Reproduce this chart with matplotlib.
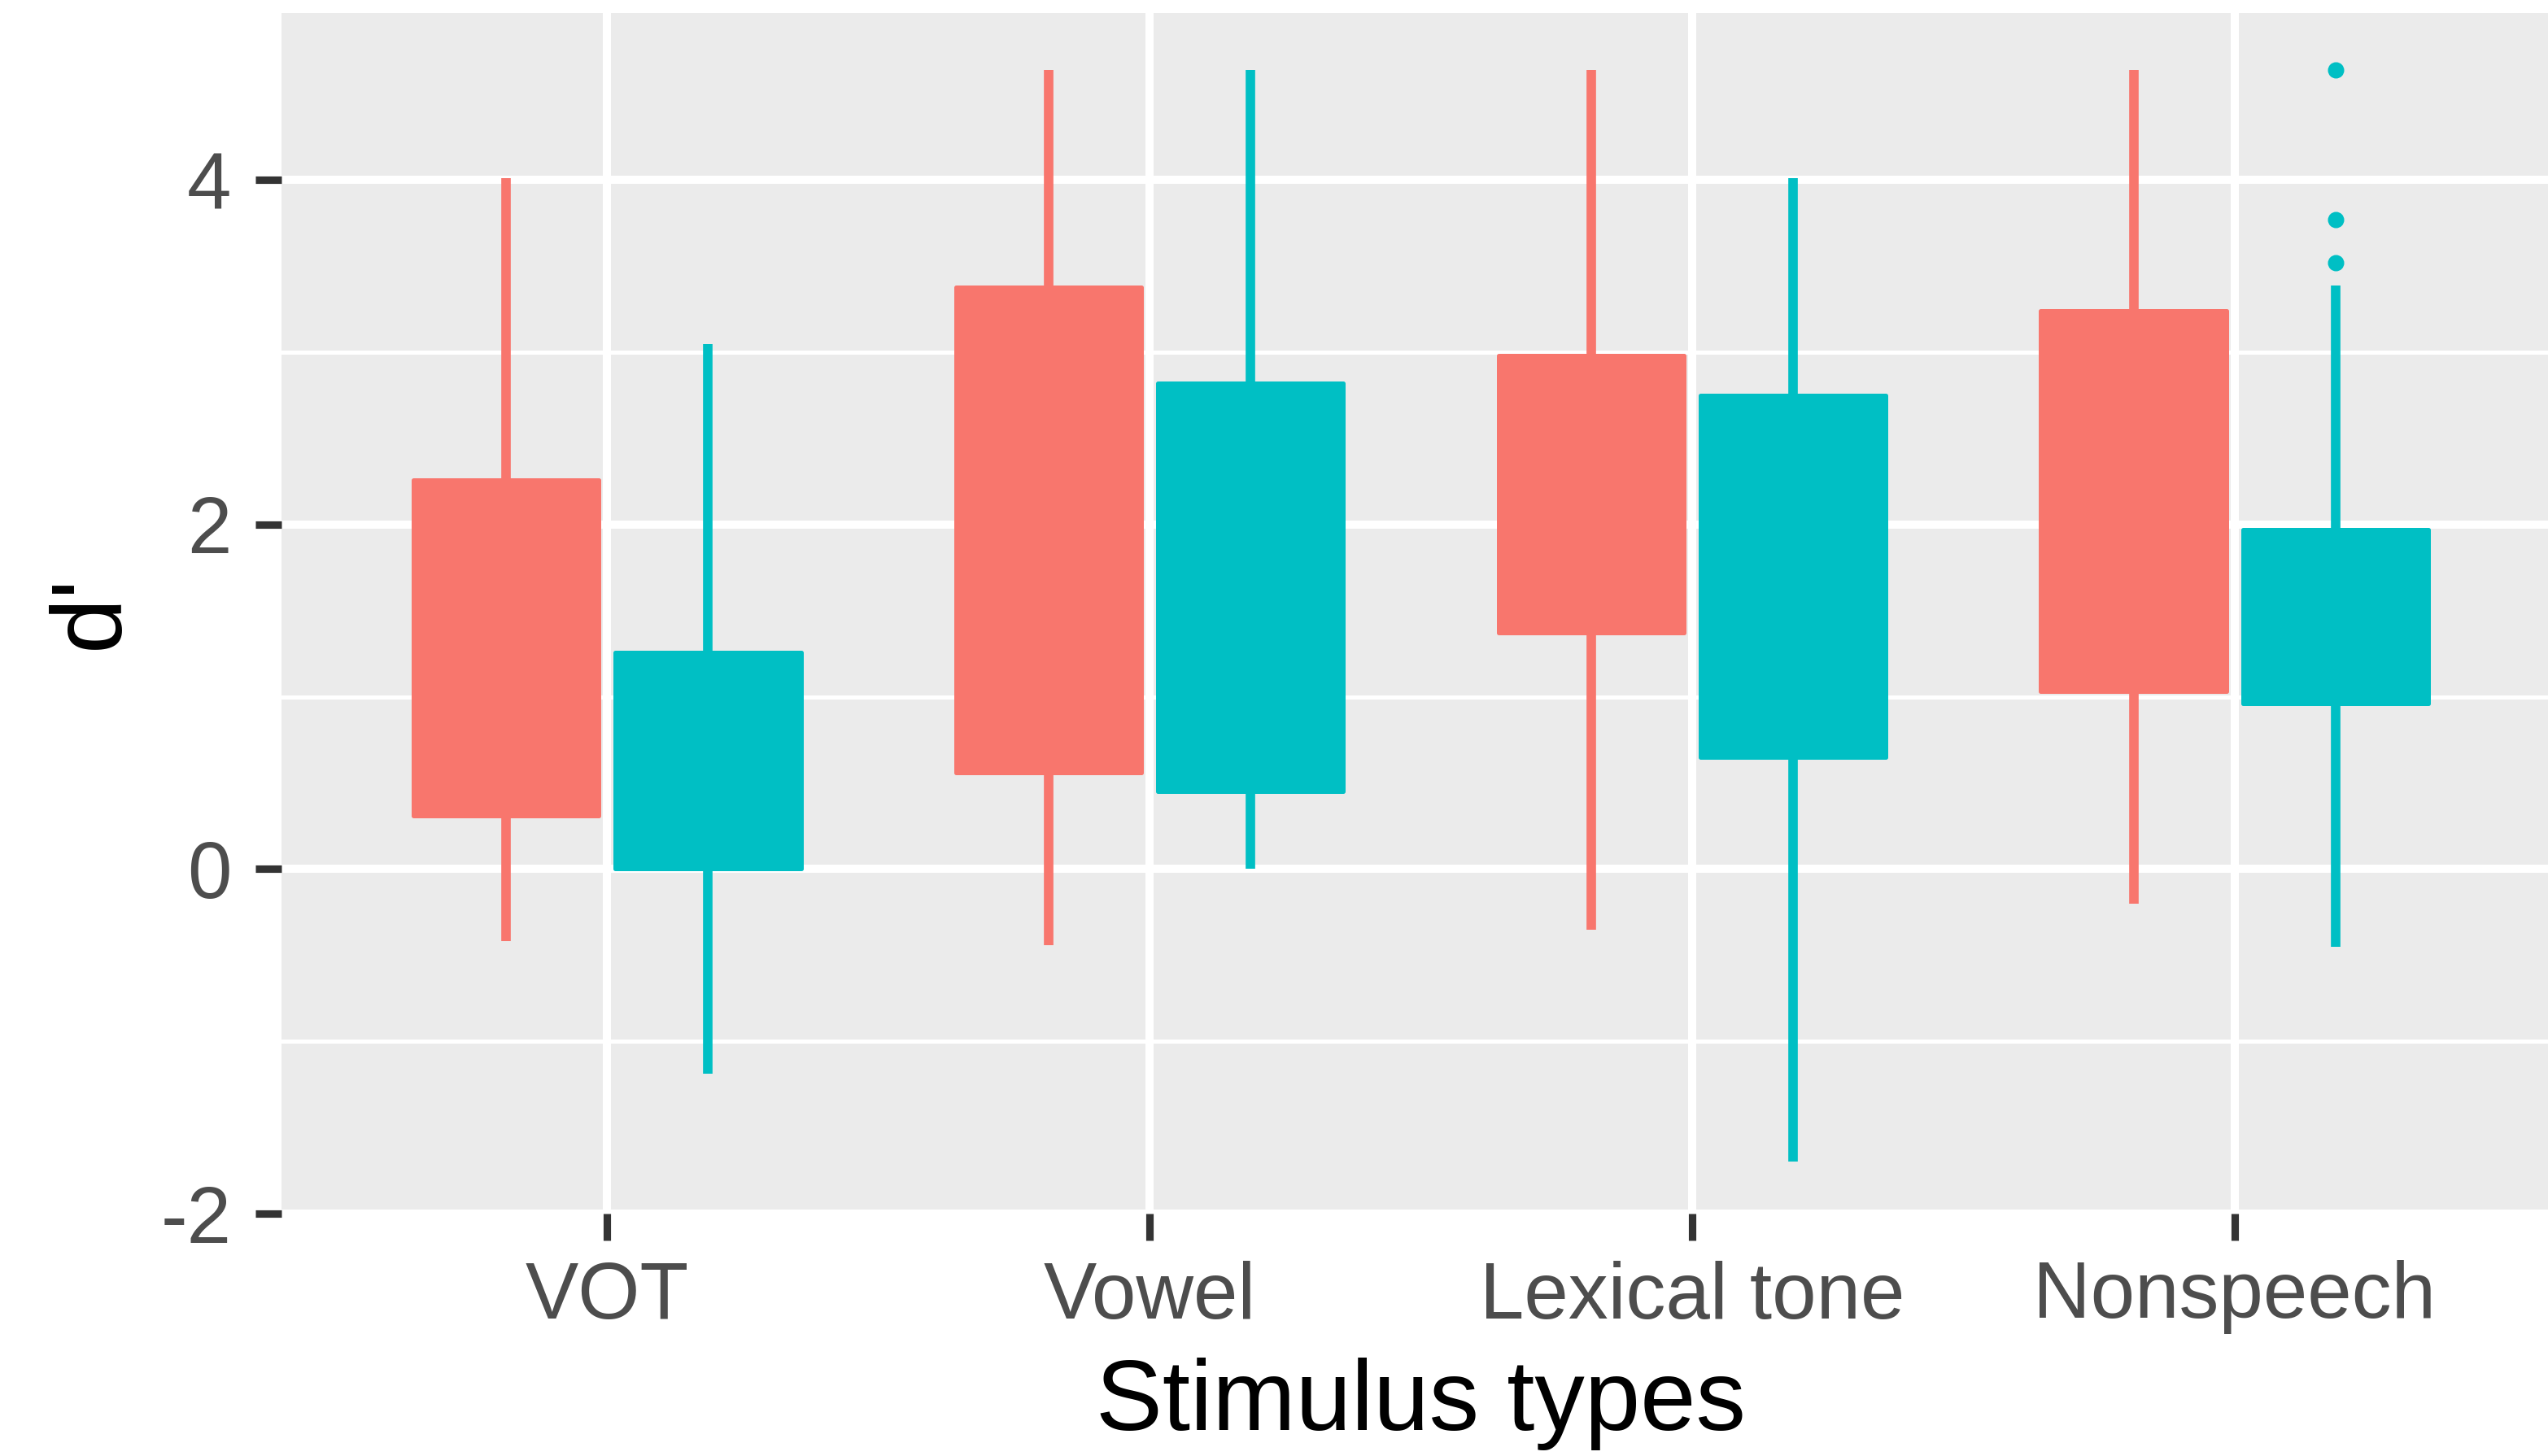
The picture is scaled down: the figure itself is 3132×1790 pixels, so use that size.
import matplotlib
matplotlib.use("Agg")
import matplotlib.pyplot as plt
from matplotlib.ticker import MultipleLocator

plt.rcParams['font.family'] = ['Liberation Sans', 'DejaVu Sans']

# Stimulus categories and the two groups (fill colours)
categories = ["VOT", "Vowel", "Lexical tone", "Nonspeech"]
group_colors = ["#F8766D", "#00BFC4"]

# Box statistics per group, one entry per category
group1_whislo = [-0.42, -0.44, -0.35, -0.20]
group1_q1 = [0.31, 0.56, 1.37, 1.03]
group1_q3 = [2.26, 3.38, 2.98, 3.24]
group1_whishi = [4.01, 4.64, 4.64, 4.64]
group1_fliers = [[], [], [], []]

group2_whislo = [-1.19, 0.00, -1.70, -0.45]
group2_q1 = [0.00, 0.45, 0.65, 0.96]
group2_q3 = [1.26, 2.82, 2.75, 1.97]
group2_whishi = [3.05, 4.64, 4.01, 3.39]
group2_fliers = [[], [], [], [3.52, 3.77, 4.64]]

groups = [
    (group1_whislo, group1_q1, group1_q3, group1_whishi, group1_fliers),
    (group2_whislo, group2_q1, group2_q3, group2_whishi, group2_fliers),
]

W, H, DPI = 3132, 1790, 300
fig = plt.figure(figsize=(W / DPI, H / DPI), dpi=DPI)
fig.patch.set_facecolor("white")

left_px, right_px, top_px, bottom_px = 346, 3147, 16, 1492
ax = fig.add_axes([left_px / W, 1 - bottom_px / H,
                   (right_px - left_px) / W, (bottom_px - top_px) / H])
ax.set_facecolor("#EBEBEB")
for s in ax.spines.values():
    s.set_visible(False)

x = list(range(1, len(categories) + 1))
dodge = 0.186
box_w = 0.343
line_w = 2.8

for gi, (wlo, q1, q3, whi, fl) in enumerate(groups):
    color = group_colors[gi]
    offset = -dodge if gi == 0 else dodge
    stats = []
    for i in range(len(categories)):
        stats.append(dict(whislo=wlo[i], q1=q1[i], med=(q1[i] + q3[i]) / 2,
                          q3=q3[i], whishi=whi[i], fliers=fl[i]))
    ax.bxp(stats, positions=[xi + offset for xi in x], widths=box_w,
           patch_artist=True, showcaps=False, manage_ticks=False,
           boxprops=dict(facecolor=color, edgecolor=color, linewidth=1.2,
                         joinstyle="round"),
           whiskerprops=dict(color=color, linewidth=line_w, solid_capstyle="butt"),
           medianprops=dict(visible=False),
           flierprops=dict(marker="o", markersize=3.8, markerfacecolor=color,
                           markeredgecolor=color, linestyle="none"),
           zorder=3)

ax.set_xlim(0.4, 4.6)
ax.set_ylim(-2.0, 4.97)
ax.yaxis.set_minor_locator(MultipleLocator(1))
ax.set_xticks(x)
ax.set_xticklabels(categories)
ax.set_yticks([-2, 0, 2, 4])
ax.set_yticklabels(["-2", "0", "2", "4"])

ax.grid(True, which="major", color="white", linewidth=2.4, zorder=0)
ax.grid(True, which="minor", axis="y", color="white", linewidth=1.2, zorder=0)
ax.set_axisbelow(True)

ax.tick_params(axis="both", which="major", length=7.8, width=2.2,
               color="#333333", labelsize=23.5, labelcolor="#4D4D4D")
ax.tick_params(axis="y", pad=7)
ax.tick_params(axis="x", pad=6)
ax.tick_params(axis="both", which="minor", length=0)

ax.set_xlabel("Stimulus types", fontsize=29.5, color="black", va="baseline")
ax.xaxis.set_label_coords(1746 / W, 1 - 1758 / H, transform=fig.transFigure)
ax.set_ylabel("d'", fontsize=29.5, color="black", va="center")
ax.yaxis.set_label_coords(112 / W, 1 - 752 / H, transform=fig.transFigure)

fig.savefig("out.png", dpi=DPI)
